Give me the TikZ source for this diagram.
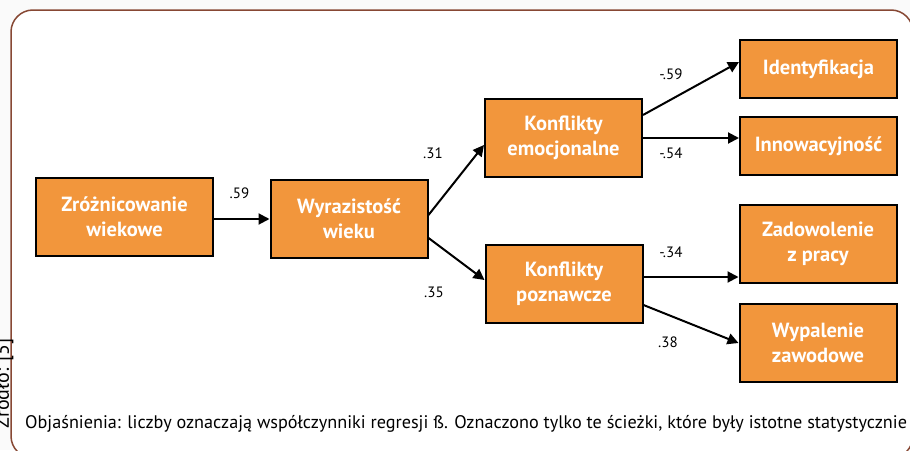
\documentclass[tikz,border=0pt]{standalone}
\usepackage{fontspec}
\setmainfont{PT Sans}
\usepackage{tikz}
\usetikzlibrary{arrows.meta}
\usetikzlibrary{positioning}
\definecolor{orangeboite}{RGB}{242,150,60}
\definecolor{bruncadre}{RGB}{135,72,52}

\begin{document}
\begin{tikzpicture}[x=1pt,y=-1pt]
% définition des paramètres
\tikzstyle cadrefigure=[color=bruncadre,line width=1.5pt,rounded corners=22pt]
\tikzstyle boitevar=[draw=black,line width=2pt,fill=orangeboite,text=white,font=\fontsize{20.5}{25}\selectfont\bfseries,align=center,inner sep=0pt]
\tikzstyle flechecoef=[black,line width=2pt,-{Triangle[length=11pt,width=11pt]}]
\tikzstyle coefbeta=[font=\fontsize{15}{17}\selectfont,inner sep=0pt]
\newcommand{\largboite}{157} % largeur des boîtes
\newcommand{\hautboite}{78}  % hauteur des boîtes à deux lignes
\newcommand{\hautpetite}{58} % hauteur des boîtes à une ligne
% le fond et le cadre
\useasboundingbox (0,0) rectangle (910,450);
\fill[color=gray!4] (0,0) rectangle (910,450);
\filldraw[cadrefigure,fill=white] (11,10) rectangle (913,458);
\node[rotate=90,anchor=base east,font=\fontsize{20}{24}\selectfont,inner sep=0pt] (source) at (9,338) {Źródło: [5]};
% les boîtes
\node[boitevar,minimum width=177pt,minimum height=\hautboite pt] (zroz) at (124.5,217) {Zróżnicowanie\\wiekowe};
\node[boitevar,minimum width=\largboite pt,minimum height=\hautboite pt] (wyraz) at (349,219) {Wyrazistość\\wieku};
\node[boitevar,minimum width=\largboite pt,minimum height=\hautboite pt] (emoc) at (563.5,138) {Konflikty\\emocjonalne};
\node[boitevar,minimum width=\largboite pt,minimum height=\hautboite pt] (pozn) at (564,283.5) {Konflikty\\poznawcze};
\node[boitevar,minimum width=\largboite pt,minimum height=\hautpetite pt] (ident) at (818.5,69) {Identyfikacja};
\node[boitevar,minimum width=\largboite pt,minimum height=\hautpetite pt] (innow) at (818.5,146) {Innowacyjność};
\node[boitevar,minimum width=\largboite pt,minimum height=\hautboite pt] (zadow) at (818,243.5) {Zadowolenie\\z pracy};
\node[boitevar,minimum width=\largboite pt,minimum height=\hautboite pt] (wypal) at (818,343) {Wypalenie\\zawodowe};
% les flèches
\draw[flechecoef] (zroz.east |- wyraz.west) -- (wyraz.west);
\draw[flechecoef] ([yshift=4pt]wyraz.east) -- ([yshift=-7pt]emoc.west);
\draw[flechecoef] ([yshift=-19pt]wyraz.east) -- ([yshift=3.5pt]pozn.west);
\draw[flechecoef] ([yshift=23pt]emoc.east) -- ([yshift=7pt]ident.west);
\draw[flechecoef] (emoc.east) -- (emoc.east -| innow.west);
\draw[flechecoef] ([yshift=6.5pt]pozn.east) -- ([yshift=6.5pt]pozn.east -| zadow.west);
\draw[flechecoef] ([yshift=-21.5pt]pozn.east) -- (wypal.west);
% les coefficients
\node[coefbeta] (b1) at (239.5,193.5) {.59};
\node[coefbeta] (b2) at (433,153.5) {.31};
\node[coefbeta] (b3) at (434,292.5) {.35};
\node[coefbeta] (b4) at (671,74) {-.59};
\node[coefbeta] (b5) at (671,153.5) {-.54};
\node[coefbeta] (b6) at (671,252.5) {-.34};
\node[coefbeta] (b7) at (668,342.5) {.38};
% la légende
\node[anchor=base west,font=\fontsize{18.2}{21}\selectfont,inner sep=0pt] (legende) at (25,428) {Objaśnienia: liczby oznaczają współczynniki regresji ß. Oznaczono tylko te ścieżki, które były istotne statystycznie};
\end{tikzpicture}
\end{document}
